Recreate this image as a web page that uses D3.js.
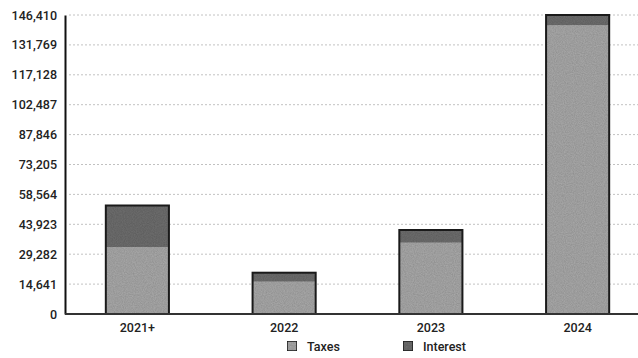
<!DOCTYPE html>
<html><head><meta charset="utf-8">
<script src="https://cdn.jsdelivr.net/npm/d3@7"></script>
<style>
body{margin:0;background:#fff;}
text{font-family:Roboto,"Liberation Sans",sans-serif;}
</style></head>
<body><svg id="c" width="638" height="358"></svg>
<script>
const categories = ["2021+", "2022", "2023", "2024"];
const taxes = [32810, 15820, 34910, 141500];
const interest = [20320, 4400, 6220, 4910];
const yTicks = [0, 14641, 29282, 43923, 58564, 73205, 87846, 102487, 117128, 131769, 146410];
const seriesNames = ["Taxes", "Interest"];
const seriesColors = ["#ababab", "#6f6f6f"];

(function(){
const svg = d3.select("#c");
const mLeft = 65, mRight = 652, mTop = 15, mBottom = 314;

const defs = svg.append("defs");
const f = defs.append("filter").attr("id","noise").attr("x",0).attr("y",0).attr("width",1).attr("height",1);
f.append("feTurbulence").attr("type","fractalNoise").attr("baseFrequency",0.9).attr("numOctaves",2).attr("seed",3).attr("result","t");
f.append("feColorMatrix").attr("in","t").attr("type","matrix")
  .attr("values","0 0 0 0 0  0 0 0 0 0  0 0 0 0 0  0 0 0 0.35 0").attr("result","n");
f.append("feComposite").attr("in","n").attr("in2","SourceGraphic").attr("operator","in").attr("result","nc");
f.append("feMerge").selectAll("feMergeNode").data(["SourceGraphic","nc"]).enter().append("feMergeNode").attr("in",d=>d);

const x = d3.scaleBand().domain(categories).range([mLeft - 1, mRight - 1]).paddingInner(0.57).paddingOuter(0.285);
const y = d3.scaleLinear().domain([0, 146410]).range([mBottom, mTop]);

svg.append("g").selectAll("line").data(yTicks.slice(1)).enter().append("line")
  .attr("x1", mLeft + 4).attr("x2", 638).attr("y1", d=>y(d)).attr("y2", d=>y(d))
  .attr("stroke", "#a8a8a8").attr("stroke-width", 1).attr("stroke-dasharray", "2,2").attr("opacity",0.7);

const data = categories.map((c,i)=>({cat:c, Taxes:taxes[i], Interest:interest[i]}));
const stack = d3.stack().keys(seriesNames)(data);

svg.append("g").selectAll("g").data(stack).enter().append("g")
  .attr("fill",(d,i)=>seriesColors[i])
  .selectAll("rect").data(d=>d).enter().append("rect")
  .attr("x", d=>x(d.data.cat)).attr("width", x.bandwidth())
  .attr("y", d=>y(d[1])).attr("height", d=>y(d[0]) - y(d[1]))
  .attr("filter","url(#noise)");

svg.append("g").selectAll("rect").data(data).enter().append("rect")
  .attr("x", d=>x(d.cat)).attr("width", x.bandwidth())
  .attr("y", d=>y(d.Taxes + d.Interest)).attr("height", d=>mBottom - y(d.Taxes + d.Interest))
  .attr("fill","none").attr("stroke","#1a1a1a").attr("stroke-width",2);

const ya = svg.append("g").attr("transform",`translate(${mLeft},0)`)
  .call(d3.axisLeft(y).tickValues(yTicks).tickFormat(d3.format(",")).tickSize(0).tickPadding(8));
ya.select(".domain").attr("stroke","#111").attr("stroke-width",2);
ya.selectAll("text").attr("font-size",12.5).attr("font-weight",500).attr("fill","#222");

const xa = svg.append("g").attr("transform",`translate(0,${mBottom})`)
  .call(d3.axisBottom(x).tickSize(0).tickPadding(9));
xa.select(".domain").remove();
svg.append("line").attr("x1",mLeft).attr("x2",638).attr("y1",mBottom).attr("y2",mBottom)
  .attr("stroke","#333").attr("stroke-width",2);
xa.selectAll("text").attr("font-size",12.5).attr("font-weight",500).attr("fill","#222");

const legX = [287, 403];
const lg = svg.append("g").selectAll("g").data(seriesNames).enter().append("g")
  .attr("transform",(d,i)=>`translate(${legX[i]},341)`);
lg.append("rect").attr("width",10).attr("height",10).attr("fill",(d,i)=>seriesColors[i])
  .attr("stroke","#222").attr("stroke-width",1.5).attr("filter","url(#noise)");
lg.append("text").attr("x",20).attr("y",10).text(d=>d).attr("font-size",12.5).attr("font-weight",500).attr("fill","#222");
})();
</script></body></html>
